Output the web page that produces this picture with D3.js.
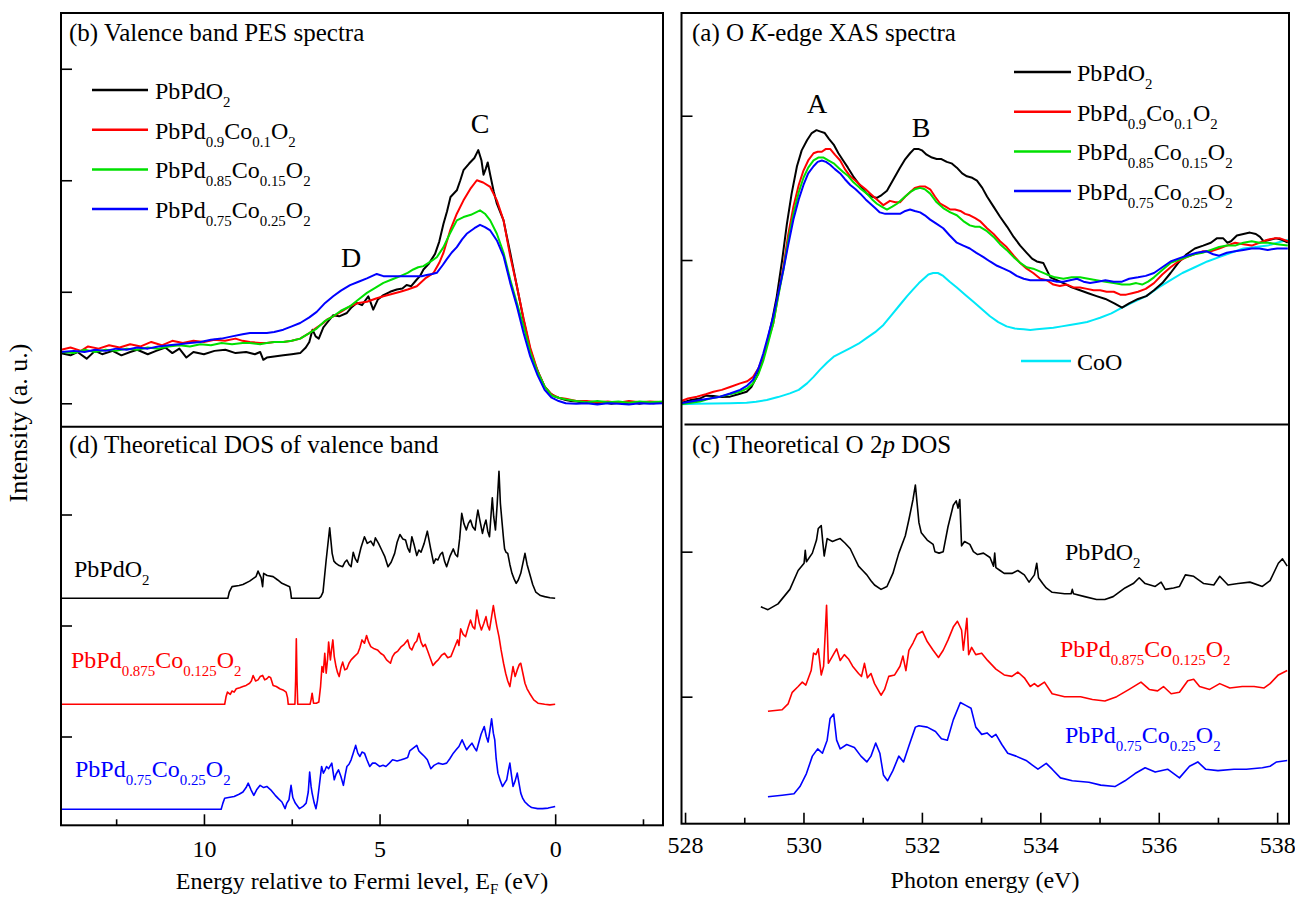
<!DOCTYPE html>
<html>
<head>
<meta charset="utf-8">
<script src="https://cdn.jsdelivr.net/npm/d3@7"></script>
<style>
body{margin:0;background:#fff;}
svg text{font-family:"Liberation Serif","Times New Roman",serif;}
</style>
</head>
<body>
<svg></svg>
<script>
// ---- data ----
// (b) valence band PES, [binding energy eV, intensity]
var pes_PbPdO2 = [[14.07,0.45],[13.8,0.43],[13.6,0.46],[13.34,0.40],[13.1,0.47],[12.9,0.44],[12.6,0.47],[12.35,0.43],[12.1,0.46],[11.9,0.48],[11.6,0.44],[11.36,0.47],[11.1,0.50],[10.9,0.45],[10.7,0.49],[10.5,0.41],[10.3,0.46],[10.0,0.44],[9.7,0.47],[9.39,0.48],[9.1,0.45],[8.8,0.46],[8.55,0.44],[8.40,0.46],[8.31,0.39],[8.21,0.41],[8.0,0.42],[7.74,0.43],[7.5,0.44],[7.26,0.45],[7.1,0.50],[7.0,0.55],[6.91,0.66],[6.82,0.60],[6.73,0.58],[6.6,0.68],[6.50,0.72],[6.32,0.79],[6.15,0.78],[5.93,0.81],[5.80,0.86],[5.65,0.90],[5.50,0.88],[5.32,0.96],[5.25,0.90],[5.18,0.84],[5.05,0.93],[4.89,0.97],[4.70,1.00],[4.51,1.02],[4.35,1.03],[4.23,1.06],[4.10,1.05],[3.94,1.11],[3.85,1.14],[3.75,1.20],[3.60,1.25],[3.42,1.34],[3.30,1.45],[3.18,1.61],[3.08,1.72],[2.98,1.85],[2.80,1.91],[2.70,2.00],[2.61,2.09],[2.45,2.15],[2.30,2.20],[2.19,2.27],[2.10,2.18],[2.04,2.05],[1.98,2.10],[1.92,2.16],[1.85,2.05],[1.75,1.90],[1.66,1.79],[1.47,1.64],[1.38,1.50],[1.28,1.35],[1.09,1.05],[0.90,0.75],[0.71,0.48],[0.55,0.33],[0.43,0.24],[0.30,0.15],[0.14,0.09],[0.0,0.06],[-0.14,0.045],[-0.3,0.03],[-0.45,0.02],[-0.62,0.015],[-0.8,0.005],[-1.0,0.012],[-1.2,0.0],[-1.4,0.008],[-1.6,-0.005],[-1.8,0.005],[-2.0,0.0],[-2.2,0.01],[-2.4,-0.005],[-2.6,0.008],[-2.8,0.0],[-3.07,0.01]];
var pes_Co010 = [[14.07,0.48],[13.8,0.50],[13.5,0.47],[13.3,0.51],[13.0,0.49],[12.7,0.52],[12.4,0.50],[12.1,0.53],[11.8,0.51],[11.5,0.55],[11.2,0.52],[10.9,0.56],[10.6,0.54],[10.3,0.56],[10.0,0.55],[9.7,0.57],[9.4,0.56],[9.1,0.58],[8.9,0.56],[8.69,0.55],[8.4,0.54],[8.21,0.54],[8.0,0.55],[7.74,0.55],[7.5,0.56],[7.26,0.58],[7.0,0.63],[6.79,0.68],[6.6,0.72],[6.50,0.75],[6.32,0.78],[6.1,0.82],[5.84,0.87],[5.6,0.90],[5.36,0.91],[5.1,0.94],[4.89,0.96],[4.65,0.98],[4.41,1.00],[4.2,1.02],[3.94,1.05],[3.7,1.12],[3.46,1.17],[3.30,1.26],[3.18,1.35],[2.99,1.55],[2.80,1.70],[2.61,1.82],[2.40,1.93],[2.23,2.00],[2.05,1.98],[1.85,1.94],[1.66,1.82],[1.47,1.64],[1.28,1.32],[1.09,1.05],[0.90,0.76],[0.71,0.50],[0.50,0.29],[0.30,0.15],[0.1,0.08],[-0.1,0.05],[-0.3,0.04],[-0.6,0.02],[-0.9,0.02],[-1.2,0.01],[-1.5,0.015],[-1.8,0.005],[-2.1,0.02],[-2.4,0.01],[-2.7,0.015],[-3.07,0.01]];
var pes_Co015 = [[14.07,0.46],[13.7,0.45],[13.4,0.48],[13.1,0.46],[12.8,0.48],[12.5,0.47],[12.2,0.49],[11.9,0.48],[11.6,0.50],[11.3,0.49],[11.0,0.51],[10.7,0.52],[10.4,0.51],[10.1,0.53],[9.8,0.52],[9.5,0.54],[9.2,0.53],[8.9,0.54],[8.69,0.54],[8.4,0.53],[8.21,0.54],[8.0,0.55],[7.74,0.55],[7.5,0.56],[7.26,0.58],[7.0,0.63],[6.79,0.67],[6.55,0.74],[6.32,0.78],[6.1,0.83],[5.84,0.87],[5.6,0.93],[5.36,0.99],[5.1,1.04],[4.89,1.08],[4.65,1.11],[4.41,1.14],[4.2,1.17],[4.04,1.20],[3.90,1.22],[3.75,1.23],[3.55,1.27],[3.37,1.31],[3.18,1.40],[3.0,1.52],[2.80,1.64],[2.61,1.67],[2.40,1.69],[2.14,1.73],[2.0,1.70],[1.85,1.64],[1.66,1.52],[1.47,1.35],[1.28,1.11],[1.09,0.90],[0.90,0.69],[0.71,0.46],[0.50,0.28],[0.30,0.15],[0.1,0.07],[-0.1,0.05],[-0.3,0.035],[-0.6,0.02],[-0.9,0.01],[-1.2,0.02],[-1.5,0.01],[-1.8,0.015],[-2.1,0.005],[-2.4,0.015],[-2.7,0.01],[-3.07,0.015]];
var pes_Co025 = [[14.07,0.46],[13.7,0.47],[13.4,0.46],[13.1,0.48],[12.8,0.47],[12.5,0.49],[12.2,0.48],[11.9,0.50],[11.6,0.49],[11.3,0.51],[11.0,0.52],[10.7,0.53],[10.4,0.54],[10.1,0.55],[9.8,0.57],[9.5,0.58],[9.2,0.60],[8.9,0.62],[8.69,0.63],[8.4,0.63],[8.21,0.63],[8.0,0.64],[7.74,0.66],[7.5,0.69],[7.26,0.72],[7.0,0.77],[6.79,0.82],[6.55,0.90],[6.32,0.96],[6.1,1.01],[5.84,1.06],[5.6,1.09],[5.36,1.12],[5.08,1.16],[4.89,1.14],[4.65,1.14],[4.41,1.14],[4.2,1.14],[3.94,1.14],[3.80,1.14],[3.66,1.15],[3.50,1.16],[3.37,1.17],[3.2,1.24],[3.09,1.29],[2.95,1.35],[2.80,1.40],[2.65,1.47],[2.52,1.52],[2.30,1.57],[2.14,1.60],[2.0,1.58],[1.85,1.55],[1.66,1.46],[1.47,1.32],[1.28,1.08],[1.09,0.87],[0.90,0.63],[0.71,0.42],[0.50,0.25],[0.30,0.12],[0.1,0.05],[-0.1,0.02],[-0.3,0.0],[-0.6,-0.005],[-0.9,0.0],[-1.2,-0.01],[-1.5,0.0],[-1.8,-0.005],[-2.1,-0.01],[-2.4,0.0],[-2.7,-0.005],[-3.07,0.0]];

// (a) O K-edge XAS, [photon energy eV, intensity]
var xas_PbPdO2 = [[527.92,0.007],[528.1,0.03],[528.25,0.04],[528.35,0.06],[528.48,0.058],[528.6,0.05],[528.76,0.053],[528.9,0.07],[529.04,0.087],[529.12,0.12],[529.21,0.19],[529.3,0.29],[529.38,0.42],[529.47,0.58],[529.55,0.75],[529.64,1.0],[529.72,1.25],[529.8,1.46],[529.89,1.65],[529.97,1.76],[530.06,1.83],[530.14,1.88],[530.22,1.90],[530.29,1.89],[530.36,1.88],[530.43,1.84],[530.51,1.80],[530.59,1.74],[530.67,1.69],[530.75,1.64],[530.84,1.58],[530.95,1.52],[531.07,1.46],[531.15,1.44],[531.24,1.43],[531.32,1.45],[531.41,1.48],[531.52,1.56],[531.63,1.64],[531.72,1.70],[531.80,1.74],[531.87,1.77],[531.94,1.77],[532.0,1.76],[532.08,1.73],[532.17,1.71],[532.25,1.70],[532.33,1.70],[532.42,1.68],[532.5,1.67],[532.59,1.64],[532.68,1.60],[532.76,1.58],[532.85,1.57],[532.93,1.55],[533.02,1.50],[533.10,1.44],[533.21,1.37],[533.32,1.30],[533.44,1.23],[533.55,1.16],[533.66,1.10],[533.77,1.05],[533.86,1.01],[533.94,0.99],[534.05,0.98],[534.11,0.93],[534.17,0.88],[534.28,0.86],[534.39,0.84],[534.53,0.81],[534.67,0.79],[534.81,0.77],[534.95,0.75],[535.10,0.73],[535.25,0.70],[535.38,0.67],[535.5,0.70],[535.65,0.73],[535.79,0.75],[535.92,0.79],[536.06,0.84],[536.2,0.91],[536.33,0.98],[536.47,1.04],[536.61,1.08],[536.75,1.10],[536.88,1.12],[536.98,1.15],[537.09,1.15],[537.16,1.12],[537.22,1.13],[537.32,1.17],[537.43,1.18],[537.54,1.19],[537.64,1.18],[537.71,1.16],[537.77,1.13],[537.88,1.14],[537.98,1.15],[538.08,1.14],[538.18,1.12]];
var xas_Co010 = [[527.92,0.02],[528.05,0.04],[528.2,0.053],[528.35,0.07],[528.48,0.087],[528.62,0.10],[528.76,0.12],[528.93,0.145],[529.05,0.16],[529.15,0.19],[529.24,0.25],[529.32,0.33],[529.4,0.44],[529.49,0.56],[529.57,0.75],[529.66,0.95],[529.74,1.17],[529.83,1.37],[529.92,1.52],[530.0,1.62],[530.08,1.69],[530.17,1.74],[530.24,1.75],[530.31,1.75],[530.38,1.77],[530.45,1.77],[530.53,1.73],[530.62,1.69],[530.7,1.63],[530.79,1.58],[530.88,1.55],[530.96,1.52],[531.05,1.49],[531.13,1.46],[531.24,1.42],[531.35,1.38],[531.46,1.41],[531.55,1.40],[531.63,1.40],[531.72,1.44],[531.80,1.47],[531.88,1.50],[531.97,1.51],[532.05,1.51],[532.14,1.49],[532.22,1.44],[532.31,1.39],[532.40,1.37],[532.48,1.35],[532.56,1.35],[532.65,1.34],[532.73,1.32],[532.81,1.31],[532.9,1.29],[532.98,1.27],[533.1,1.22],[533.21,1.18],[533.32,1.13],[533.43,1.09],[533.55,1.03],[533.66,0.98],[533.77,0.94],[533.88,0.91],[534.0,0.87],[534.11,0.86],[534.22,0.83],[534.33,0.82],[534.45,0.83],[534.56,0.81],[534.67,0.81],[534.79,0.80],[534.9,0.79],[535.01,0.79],[535.12,0.78],[535.24,0.78],[535.35,0.76],[535.45,0.76],[535.55,0.77],[535.65,0.78],[535.78,0.80],[535.92,0.84],[536.06,0.90],[536.2,0.95],[536.33,0.99],[536.47,1.02],[536.6,1.04],[536.74,1.06],[536.88,1.06],[537.02,1.08],[537.15,1.10],[537.29,1.12],[537.43,1.11],[537.57,1.10],[537.7,1.12],[537.84,1.14],[537.95,1.15],[538.05,1.15],[538.18,1.13]];
var xas_Co015 = [[527.92,0.0],[528.1,0.01],[528.25,0.02],[528.42,0.04],[528.59,0.053],[528.76,0.07],[528.93,0.087],[529.05,0.11],[529.15,0.145],[529.24,0.21],[529.32,0.30],[529.4,0.42],[529.49,0.56],[529.57,0.74],[529.66,0.93],[529.74,1.13],[529.83,1.32],[529.92,1.47],[530.0,1.57],[530.08,1.64],[530.17,1.69],[530.25,1.71],[530.34,1.71],[530.42,1.69],[530.51,1.67],[530.59,1.64],[530.67,1.61],[530.76,1.58],[530.84,1.54],[530.95,1.50],[531.07,1.46],[531.16,1.42],[531.24,1.39],[531.32,1.37],[531.41,1.35],[531.5,1.37],[531.58,1.39],[531.69,1.43],[531.80,1.47],[531.88,1.49],[531.97,1.50],[532.05,1.49],[532.14,1.46],[532.25,1.40],[532.36,1.36],[532.48,1.33],[532.59,1.31],[532.7,1.27],[532.81,1.24],[532.9,1.23],[532.98,1.23],[533.1,1.20],[533.21,1.16],[533.32,1.11],[533.43,1.07],[533.55,1.02],[533.66,0.98],[533.77,0.95],[533.88,0.94],[534.0,0.92],[534.11,0.90],[534.25,0.88],[534.39,0.87],[534.53,0.88],[534.67,0.88],[534.81,0.87],[534.95,0.86],[535.1,0.85],[535.24,0.84],[535.38,0.83],[535.51,0.83],[535.62,0.84],[535.72,0.83],[535.82,0.85],[535.92,0.88],[536.06,0.93],[536.2,0.98],[536.33,1.00],[536.47,1.02],[536.6,1.04],[536.74,1.05],[536.88,1.07],[537.02,1.09],[537.15,1.10],[537.29,1.10],[537.43,1.12],[537.57,1.13],[537.7,1.12],[537.84,1.12],[538.0,1.11],[538.18,1.10]];
var xas_Co025 = [[527.92,0.007],[528.1,0.02],[528.25,0.03],[528.42,0.04],[528.59,0.053],[528.76,0.075],[528.93,0.10],[529.05,0.13],[529.15,0.17],[529.24,0.25],[529.32,0.35],[529.4,0.47],[529.49,0.61],[529.57,0.76],[529.66,0.93],[529.74,1.10],[529.83,1.28],[529.92,1.42],[530.0,1.52],[530.08,1.60],[530.17,1.65],[530.24,1.68],[530.31,1.69],[530.38,1.68],[530.45,1.66],[530.53,1.63],[530.62,1.60],[530.7,1.56],[530.79,1.52],[530.88,1.49],[530.96,1.46],[531.05,1.42],[531.13,1.39],[531.21,1.36],[531.29,1.33],[531.38,1.32],[531.46,1.32],[531.55,1.32],[531.63,1.32],[531.72,1.34],[531.80,1.35],[531.88,1.34],[531.97,1.33],[532.05,1.31],[532.14,1.28],[532.25,1.25],[532.36,1.22],[532.47,1.17],[532.59,1.12],[532.7,1.10],[532.81,1.08],[532.92,1.05],[533.04,1.02],[533.15,0.99],[533.27,0.96],[533.38,0.94],[533.49,0.92],[533.6,0.89],[533.72,0.87],[533.83,0.86],[533.94,0.86],[534.05,0.86],[534.17,0.86],[534.28,0.85],[534.39,0.85],[534.5,0.86],[534.62,0.87],[534.73,0.85],[534.84,0.84],[534.97,0.85],[535.1,0.86],[535.24,0.85],[535.38,0.85],[535.5,0.87],[535.65,0.88],[535.78,0.89],[535.92,0.91],[536.06,0.95],[536.2,0.99],[536.33,1.01],[536.47,1.03],[536.64,1.05],[536.81,1.06],[536.92,1.04],[537.02,1.03],[537.15,1.05],[537.29,1.06],[537.43,1.07],[537.57,1.08],[537.7,1.08],[537.84,1.07],[538.0,1.08],[538.18,1.08]];
var xas_CoO = [[527.92,0.0],[528.2,0.003],[528.48,0.005],[528.76,0.007],[529.04,0.01],[529.2,0.018],[529.38,0.03],[529.57,0.05],[529.77,0.076],[529.92,0.10],[530.06,0.145],[530.17,0.19],[530.28,0.24],[530.4,0.29],[530.51,0.33],[530.65,0.36],[530.79,0.39],[530.93,0.42],[531.07,0.46],[531.21,0.50],[531.35,0.55],[531.49,0.62],[531.63,0.69],[531.75,0.75],[531.86,0.80],[531.95,0.84],[532.03,0.87],[532.11,0.90],[532.19,0.91],[532.27,0.91],[532.36,0.89],[532.47,0.85],[532.59,0.81],[532.73,0.76],[532.87,0.71],[533.01,0.66],[533.15,0.61],[533.29,0.57],[533.43,0.54],[533.57,0.525],[533.72,0.52],[533.83,0.515],[533.94,0.52],[534.08,0.525],[534.22,0.53],[534.36,0.54],[534.5,0.55],[534.65,0.56],[534.79,0.57],[534.9,0.585],[535.01,0.60],[535.2,0.63],[535.38,0.67],[535.58,0.71],[535.79,0.75],[536.0,0.81],[536.2,0.86],[536.4,0.91],[536.61,0.95],[536.82,0.99],[537.02,1.02],[537.22,1.05],[537.43,1.08],[537.64,1.09],[537.84,1.10],[538.0,1.12],[538.18,1.14]];

// (d) theoretical DOS of valence band (offset curves)
var vdos_PbPdO2 = [[14.07,2.245],[9.32,2.245],[9.28,2.30],[9.2,2.35],[9.0,2.36],[8.89,2.37],[8.7,2.40],[8.52,2.44],[8.46,2.49],[8.40,2.45],[8.37,2.43],[8.33,2.35],[8.30,2.47],[8.2,2.45],[8.03,2.44],[7.9,2.41],[7.78,2.38],[7.56,2.35],[7.53,2.30],[7.51,2.245],[6.73,2.245],[6.67,2.26],[6.61,2.30],[6.52,2.59],[6.42,2.88],[6.35,2.65],[6.30,2.58],[6.24,2.56],[6.15,2.54],[6.05,2.53],[5.99,2.57],[5.93,2.59],[5.87,2.55],[5.81,2.53],[5.75,2.66],[5.69,2.60],[5.63,2.57],[5.53,2.70],[5.43,2.80],[5.35,2.74],[5.25,2.76],[5.17,2.72],[5.12,2.79],[5.03,2.74],[4.94,2.68],[4.85,2.62],[4.76,2.53],[4.67,2.57],[4.57,2.65],[4.50,2.75],[4.42,2.82],[4.34,2.78],[4.26,2.77],[4.20,2.70],[4.14,2.66],[4.08,2.80],[4.01,2.72],[3.94,2.63],[3.88,2.68],[3.82,2.66],[3.73,2.74],[3.64,2.85],[3.55,2.70],[3.46,2.56],[3.40,2.60],[3.34,2.59],[3.27,2.64],[3.21,2.66],[3.15,2.58],[3.09,2.53],[3.0,2.62],[2.90,2.69],[2.84,2.64],[2.78,2.62],[2.72,2.78],[2.66,3.01],[2.60,2.92],[2.53,2.86],[2.47,2.92],[2.41,2.95],[2.35,2.89],[2.28,2.86],[2.24,2.96],[2.20,3.04],[2.14,2.94],[2.07,2.83],[2.02,2.90],[1.97,2.95],[1.92,2.85],[1.87,2.80],[1.83,2.98],[1.79,3.15],[1.75,2.98],[1.70,2.86],[1.65,3.10],[1.60,3.39],[1.56,3.10],[1.51,2.92],[1.47,2.78],[1.44,2.69],[1.40,2.66],[1.35,2.65],[1.29,2.55],[1.23,2.47],[1.17,2.42],[1.11,2.38],[1.05,2.41],[0.98,2.47],[0.92,2.56],[0.86,2.65],[0.80,2.55],[0.73,2.47],[0.64,2.37],[0.55,2.30],[0.42,2.27],[0.30,2.26],[0.15,2.25],[0.0,2.245]];
var vdos_Co0125 = [[14.07,1.29],[9.41,1.29],[9.37,1.36],[9.33,1.40],[9.25,1.38],[9.2,1.41],[9.14,1.40],[9.08,1.43],[8.98,1.44],[8.89,1.45],[8.80,1.46],[8.70,1.48],[8.65,1.50],[8.60,1.55],[8.53,1.50],[8.46,1.51],[8.40,1.54],[8.33,1.55],[8.27,1.51],[8.21,1.52],[8.15,1.54],[8.10,1.53],[8.03,1.46],[7.94,1.45],[7.84,1.43],[7.75,1.42],[7.66,1.40],[7.62,1.35],[7.60,1.29],[7.41,1.29],[7.39,1.50],[7.37,1.88],[7.35,1.50],[7.33,1.29],[6.98,1.29],[6.95,1.33],[6.92,1.39],[6.88,1.30],[6.80,1.30],[6.73,1.31],[6.68,1.45],[6.64,1.63],[6.60,1.58],[6.56,1.75],[6.52,1.57],[6.48,1.70],[6.45,1.85],[6.40,1.69],[6.36,1.80],[6.33,1.87],[6.29,1.72],[6.24,1.63],[6.20,1.58],[6.15,1.54],[6.10,1.62],[6.05,1.67],[5.99,1.60],[5.93,1.61],[5.87,1.66],[5.81,1.69],[5.72,1.72],[5.62,1.75],[5.56,1.80],[5.50,1.87],[5.43,1.84],[5.37,1.91],[5.31,1.85],[5.25,1.81],[5.15,1.79],[5.06,1.78],[4.97,1.75],[4.88,1.73],[4.80,1.69],[4.69,1.66],[4.63,1.72],[4.57,1.75],[4.48,1.77],[4.38,1.81],[4.30,1.83],[4.20,1.87],[4.14,1.80],[4.08,1.78],[4.00,1.84],[3.94,1.86],[3.88,1.93],[3.82,1.85],[3.76,1.81],[3.70,1.83],[3.64,1.78],[3.55,1.70],[3.48,1.64],[3.40,1.67],[3.33,1.69],[3.24,1.73],[3.15,1.75],[3.06,1.71],[2.97,1.72],[2.88,1.79],[2.78,1.87],[2.74,1.82],[2.69,1.97],[2.62,1.92],[2.55,1.90],[2.48,1.98],[2.41,2.05],[2.35,1.99],[2.29,1.97],[2.23,2.14],[2.16,2.02],[2.10,1.96],[2.03,2.02],[1.97,2.08],[1.92,2.00],[1.87,1.96],[1.81,2.08],[1.76,2.18],[1.71,2.08],[1.66,1.99],[1.60,1.90],[1.54,1.78],[1.47,1.66],[1.41,1.57],[1.35,1.50],[1.29,1.45],[1.25,1.53],[1.20,1.63],[1.14,1.54],[1.08,1.60],[1.02,1.65],[0.98,1.66],[0.92,1.57],[0.86,1.48],[0.80,1.43],[0.73,1.39],[0.61,1.33],[0.49,1.30],[0.30,1.29],[0.15,1.285],[0.0,1.29]];
var vdos_Co025 = [[14.07,0.344],[9.51,0.344],[9.46,0.40],[9.41,0.443],[9.3,0.45],[9.14,0.46],[9.0,0.48],[8.89,0.50],[8.80,0.54],[8.74,0.58],[8.66,0.52],[8.58,0.47],[8.50,0.52],[8.40,0.56],[8.30,0.54],[8.21,0.55],[8.10,0.52],[7.97,0.47],[7.88,0.44],[7.78,0.41],[7.72,0.37],[7.69,0.35],[7.64,0.40],[7.58,0.43],[7.52,0.56],[7.47,0.45],[7.40,0.40],[7.28,0.35],[7.18,0.37],[7.09,0.40],[7.03,0.50],[6.99,0.68],[6.95,0.55],[6.92,0.49],[6.86,0.40],[6.81,0.35],[6.77,0.42],[6.73,0.52],[6.65,0.73],[6.60,0.67],[6.55,0.70],[6.51,0.73],[6.45,0.71],[6.36,0.76],[6.29,0.61],[6.24,0.66],[6.17,0.70],[6.10,0.64],[6.03,0.56],[5.98,0.65],[5.93,0.73],[5.87,0.75],[5.81,0.79],[5.75,0.85],[5.68,0.92],[5.62,0.85],[5.56,0.82],[5.50,0.86],[5.43,0.85],[5.36,0.79],[5.28,0.73],[5.20,0.76],[5.12,0.76],[5.00,0.73],[4.90,0.74],[4.82,0.73],[4.72,0.76],[4.63,0.79],[4.50,0.78],[4.38,0.79],[4.29,0.80],[4.20,0.81],[4.14,0.87],[4.06,0.89],[3.94,0.92],[3.88,0.87],[3.82,0.85],[3.72,0.82],[3.64,0.79],[3.54,0.71],[3.45,0.74],[3.33,0.76],[3.20,0.75],[3.09,0.76],[3.00,0.80],[2.90,0.85],[2.82,0.88],[2.74,0.91],[2.65,0.97],[2.58,0.92],[2.52,0.88],[2.45,0.91],[2.37,0.94],[2.30,0.90],[2.24,0.87],[2.17,0.95],[2.11,1.02],[2.02,1.09],[1.96,1.00],[1.91,0.95],[1.86,1.05],[1.81,1.16],[1.76,1.03],[1.72,0.97],[1.68,0.80],[1.63,0.67],[1.56,0.60],[1.50,0.55],[1.44,0.58],[1.38,0.61],[1.33,0.70],[1.29,0.76],[1.24,0.64],[1.20,0.55],[1.14,0.60],[1.08,0.67],[1.03,0.58],[0.98,0.49],[0.92,0.44],[0.86,0.41],[0.76,0.38],[0.67,0.36],[0.50,0.35],[0.36,0.35],[0.2,0.355],[0.0,0.37]];

// (c) theoretical O 2p DOS (offset curves)
var odos_PbPdO2 = [[529.28,1.62],[529.40,1.60],[529.57,1.64],[529.77,1.74],[529.91,1.87],[530.01,1.92],[530.03,2.01],[530.05,1.93],[530.15,1.99],[530.22,2.08],[530.25,2.16],[530.30,2.18],[530.33,2.05],[530.35,1.97],[530.40,2.09],[530.49,2.07],[530.55,2.08],[530.62,2.09],[530.70,2.06],[530.79,2.02],[530.86,1.96],[530.93,1.90],[531.0,1.87],[531.07,1.84],[531.14,1.80],[531.20,1.77],[531.31,1.74],[531.41,1.76],[531.51,1.85],[531.61,1.99],[531.72,2.11],[531.78,2.22],[531.85,2.36],[531.89,2.46],[531.92,2.33],[531.95,2.20],[531.99,2.13],[532.09,2.08],[532.19,2.05],[532.22,2.00],[532.29,1.99],[532.36,2.00],[532.44,2.17],[532.53,2.32],[532.58,2.35],[532.61,2.30],[532.64,2.36],[532.67,2.04],[532.72,2.07],[532.81,2.05],[532.87,2.00],[532.94,1.98],[533.04,1.99],[533.15,1.96],[533.21,1.90],[533.23,1.99],[533.25,1.89],[533.32,1.87],[533.39,1.85],[533.52,1.85],[533.62,1.87],[533.73,1.84],[533.81,1.79],[533.90,1.84],[533.94,1.92],[533.97,1.82],[534.04,1.78],[534.10,1.75],[534.20,1.72],[534.41,1.71],[534.52,1.71],[534.54,1.74],[534.56,1.71],[534.75,1.69],[534.95,1.67],[535.09,1.67],[535.23,1.69],[535.43,1.75],[535.57,1.78],[535.67,1.82],[535.77,1.78],[535.94,1.76],[536.04,1.79],[536.11,1.74],[536.25,1.75],[536.35,1.76],[536.45,1.84],[536.59,1.83],[536.76,1.78],[536.93,1.77],[537.03,1.83],[537.17,1.77],[537.34,1.78],[537.54,1.79],[537.75,1.76],[537.88,1.80],[538.02,1.92],[538.09,1.95],[538.17,1.90]];
var odos_Co0125 = [[529.40,0.90],[529.64,0.91],[529.74,0.95],[529.81,1.03],[529.91,1.07],[529.98,1.10],[530.04,1.08],[530.13,1.18],[530.17,1.30],[530.21,1.29],[530.25,1.33],[530.30,1.15],[530.34,1.21],[530.39,1.63],[530.42,1.23],[530.49,1.28],[530.56,1.33],[530.62,1.25],[530.69,1.29],[530.76,1.26],[530.83,1.21],[530.93,1.16],[530.98,1.14],[531.03,1.23],[531.08,1.13],[531.14,1.16],[531.20,1.09],[531.31,1.01],[531.37,1.05],[531.44,1.14],[531.54,1.15],[531.63,1.21],[531.68,1.28],[531.73,1.18],[531.78,1.32],[531.85,1.37],[531.92,1.43],[532.01,1.45],[532.09,1.38],[532.19,1.32],[532.28,1.27],[532.36,1.32],[532.44,1.39],[532.53,1.48],[532.60,1.52],[532.67,1.46],[532.70,1.32],[532.76,1.54],[532.79,1.29],[532.84,1.34],[532.91,1.29],[533.01,1.30],[533.11,1.25],[533.25,1.19],[533.39,1.15],[533.52,1.14],[533.62,1.17],[533.73,1.13],[533.83,1.07],[533.90,1.09],[533.96,1.07],[534.07,1.10],[534.20,1.02],[534.41,1.00],[534.68,1.00],[534.88,0.98],[535.09,0.97],[535.29,1.00],[535.50,1.05],[535.70,1.10],[535.84,1.05],[535.98,1.04],[536.08,1.07],[536.21,1.02],[536.35,1.03],[536.49,1.11],[536.59,1.12],[536.69,1.07],[536.86,1.05],[537.03,1.09],[537.20,1.06],[537.41,1.07],[537.61,1.07],[537.78,1.06],[537.88,1.09],[538.02,1.15],[538.17,1.18]];
var odos_Co025 = [[529.40,0.31],[529.64,0.32],[529.84,0.33],[529.94,0.38],[530.05,0.47],[530.15,0.59],[530.24,0.64],[530.32,0.61],[530.40,0.70],[530.45,0.85],[530.51,0.88],[530.56,0.70],[530.62,0.64],[530.73,0.67],[530.86,0.65],[530.97,0.59],[531.07,0.55],[531.14,0.59],[531.22,0.68],[531.29,0.61],[531.35,0.46],[531.42,0.42],[531.51,0.49],[531.61,0.59],[531.69,0.55],[531.78,0.66],[531.89,0.79],[531.95,0.80],[532.09,0.79],[532.23,0.76],[532.33,0.71],[532.43,0.70],[532.53,0.84],[532.65,0.96],[532.74,0.94],[532.83,0.92],[532.91,0.79],[533.01,0.74],[533.10,0.75],[533.18,0.72],[533.25,0.74],[533.35,0.67],[533.45,0.61],[533.59,0.59],[533.76,0.56],[533.86,0.53],[533.96,0.50],[534.10,0.54],[534.20,0.50],[534.34,0.44],[534.54,0.42],[534.82,0.41],[535.02,0.39],[535.26,0.38],[535.43,0.42],[535.60,0.47],[535.77,0.51],[535.94,0.48],[536.15,0.50],[536.35,0.44],[536.52,0.52],[536.66,0.55],[536.79,0.50],[537.00,0.49],[537.27,0.50],[537.48,0.50],[537.75,0.51],[537.88,0.52],[537.99,0.55],[538.17,0.56]];

// names, colours, ticks
var pes_names = ["PbPdO_{2}","PbPd_{0.9}Co_{0.1}O_{2}","PbPd_{0.85}Co_{0.15}O_{2}","PbPd_{0.75}Co_{0.25}O_{2}"];
var xas_names = pes_names.concat(["CoO"]);
var dos_names = ["PbPdO_{2}","PbPd_{0.875}Co_{0.125}O_{2}","PbPd_{0.75}Co_{0.25}O_{2}"];
var line_colors = ["#000000","#ff0000","#00e000","#0000ff","#00e8f8"];
var dos_colors = ["#000000","#ff0000","#0000ff"];
var vb_ticks = [10,5,0], vb_minor = [12.5,7.5,2.5,-2.5];
var pe_ticks = [528,530,532,534,536,538], pe_minor = [529,531,533,535,537];
var pes_yticks = [0,1,2,3], vdos_yticks = [1,2,3], xas_yticks = [1,2], odos_yticks = [1,2];

// ---- layout ----
var svg_w = 1295, svg_h = 901;
var lx0 = 61, lx1 = 663, rx0 = 681.5, rx1 = 1289;
var top_y = 13;
var mid_l = 426.7, bot_l = 825.3; // left column
var mid_r = 424.5, bot_r = 823.7; // right column
var font_main = 24;
var serif = "'Liberation Serif','Times New Roman',serif";

var svg = d3.select("svg").attr("width",svg_w).attr("height",svg_h);

var x_vb = d3.scaleLinear().domain([14.07,-3.07]).range([lx0,lx1]);
var x_pe = d3.scaleLinear().domain([527.94,538.2]).range([rx0,rx1]);
var y_pes = d3.scaleLinear().domain([-0.21,3.5]).range([mid_l,top_y]);
var y_vdos = d3.scaleLinear().domain([0.2,3.791]).range([bot_l,mid_l]);
var y_xas = d3.scaleLinear().domain([-0.14,2.712]).range([mid_r,top_y]);
var y_odos = d3.scaleLinear().domain([0.124,2.877]).range([bot_r,mid_r]);

// clip for each panel
function add_clip(id,x0,y0,x1,y1){
  svg.append("clipPath").attr("id",id).append("rect")
    .attr("x",x0).attr("y",y0).attr("width",x1-x0).attr("height",y1-y0);
}
add_clip("clip_b",lx0,top_y,lx1,mid_l);
add_clip("clip_d",lx0,mid_l,lx1,bot_l);
add_clip("clip_a",rx0,top_y,rx1,mid_r);
add_clip("clip_c",rx0,mid_r,rx1,bot_r);

function draw_curve(p_obj,data,xs,ys,color,w){
  var line = d3.line().x(function(d){return xs(d[0]);}).y(function(d){return ys(d[1]);});
  return p_obj.append("path").datum(data).attr("d",line)
    .attr("fill","none").attr("stroke",color).attr("stroke-width",w)
    .attr("stroke-linejoin","round");
}
function draw_line(p_obj,x1,x2,y1,y2,color,w){
  return p_obj.append("line").attr("x1",x1).attr("x2",x2).attr("y1",y1).attr("y2",y2)
    .attr("stroke",color).attr("stroke-width",w);
}
function draw_text(p_obj,x,y,text,size){
  return p_obj.append("text").attr("x",x).attr("y",y).style("font-family",serif)
    .attr("font-size",size||font_main).text(text);
}
// text with _{sub} subscripts and <i>..</i> italics
function draw_formula(p_obj,x,y,formula,color,size,sub_dy){
  size = size || font_main;
  sub_dy = sub_dy || 8;
  var t = p_obj.append("text").attr("x",x).attr("y",y).style("font-family",serif)
    .attr("font-size",size).attr("fill",color||"#000");
  var parts = formula.split(/(_\{[^}]*\}|<i>[^<]*<\/i>)/);
  var shift = 0;
  parts.forEach(function(s){
    if(s==="") return;
    var ts = t.append("tspan");
    if(s.indexOf("_{")===0){
      ts.text(s.slice(2,-1)).attr("font-size",size*0.62).attr("dy",sub_dy-shift);
      shift = sub_dy;
    }else{
      if(s.indexOf("<i>")===0){ s = s.slice(3,-4); ts.attr("font-style","italic"); }
      ts.text(s).attr("dy",-shift);
      shift = 0;
    }
  });
  return t;
}

// ---- curves ----
var g_b = svg.append("g").attr("clip-path","url(#clip_b)");
[pes_PbPdO2,pes_Co010,pes_Co015,pes_Co025].forEach(function(d,i){
  draw_curve(g_b,d,x_vb,y_pes,line_colors[i],2);
});
var g_a = svg.append("g").attr("clip-path","url(#clip_a)");
draw_curve(g_a,xas_CoO,x_pe,y_xas,line_colors[4],2);
[xas_PbPdO2,xas_Co010,xas_Co015,xas_Co025].forEach(function(d,i){
  draw_curve(g_a,d,x_pe,y_xas,line_colors[i],2);
});
var g_d = svg.append("g").attr("clip-path","url(#clip_d)");
[vdos_PbPdO2,vdos_Co0125,vdos_Co025].forEach(function(d,i){
  draw_curve(g_d,d,x_vb,y_vdos,dos_colors[i],1.6);
});
var g_c = svg.append("g").attr("clip-path","url(#clip_c)");
[odos_PbPdO2,odos_Co0125,odos_Co025].forEach(function(d,i){
  draw_curve(g_c,d,x_pe,y_odos,dos_colors[i],1.6);
});

// ---- axes ----
function y_ticks(x,ys,vals){
  var g = svg.append("g").attr("transform","translate("+x+",0)")
    .call(d3.axisLeft(ys).tickValues(vals).tickSize(-11).tickFormat(""));
  g.select(".domain").remove();
  g.selectAll("line").attr("stroke-width",1.6);
}
y_ticks(lx0,y_pes,pes_yticks);
y_ticks(lx0,y_vdos,vdos_yticks);
y_ticks(rx0,y_xas,xas_yticks);
y_ticks(rx0,y_odos,odos_yticks);

function x_axis(y,xs,major,minor,pad){
  var g = svg.append("g").attr("transform","translate(0,"+y+")")
    .call(d3.axisBottom(xs).tickValues(major).tickSize(-11).tickPadding(pad).tickFormat(d3.format("d")));
  g.select(".domain").remove();
  g.selectAll("line").attr("stroke-width",1.6);
  g.selectAll("text").style("font-family",serif).style("font-size",font_main+"px");
  var g2 = svg.append("g").attr("transform","translate(0,"+y+")")
    .call(d3.axisBottom(xs).tickValues(minor).tickSize(-6).tickFormat(""));
  g2.select(".domain").remove();
  g2.selectAll("line").attr("stroke-width",1.6);
}
x_axis(bot_l,x_vb,vb_ticks,vb_minor,15);
x_axis(bot_r,x_pe,pe_ticks,pe_minor,12);

// frames
svg.append("rect").attr("x",lx0).attr("y",top_y).attr("width",lx1-lx0).attr("height",bot_l-top_y)
  .attr("fill","none").attr("stroke","#000").attr("stroke-width",2);
draw_line(svg,lx0,lx1,mid_l,mid_l,"#000",2);
svg.append("rect").attr("x",rx0).attr("y",top_y).attr("width",rx1-rx0).attr("height",bot_r-top_y)
  .attr("fill","none").attr("stroke","#000").attr("stroke-width",2);
draw_line(svg,rx0+3,rx1,mid_r,mid_r,"#000",2);

// ---- panel titles ----
draw_formula(svg,69,41,"(b) Valence band PES spectra","#000",25);
draw_formula(svg,692,41,"(a) O <i>K</i>-edge XAS spectra","#000",25);
draw_formula(svg,69,453,"(d) Theoretical DOS of valence band","#000",25);
draw_formula(svg,692,453,"(c) Theoretical O 2<i>p</i> DOS","#000",25);

// ---- legends ----
pes_names.forEach(function(n,i){
  var y = 90 + i*39.7;
  draw_line(svg,92,148,y,y,line_colors[i],2.5);
  draw_formula(svg,155,y+9,n,"#000");
});
xas_names.forEach(function(n,i){
  var y = i<4 ? 72 + i*39.7 : 361;
  draw_line(svg,i<4?1014:1021,1071,y,y,line_colors[i],2.5);
  draw_formula(svg,1077,y+9,n,"#000");
});

// peak labels
[["C",480,133],["D",351,267],["A",817,113],["B",921,137]].forEach(function(d){
  draw_text(svg,d[1],d[2],d[0],28).attr("text-anchor","middle");
});

// curve labels in DOS panels
var vdos_lab = [[74,577],[71,668],[75,777]];
var odos_lab = [[1065,560],[1060,657],[1065,743]];
dos_names.forEach(function(n,i){
  draw_formula(svg,vdos_lab[i][0],vdos_lab[i][1],n,dos_colors[i]);
  draw_formula(svg,odos_lab[i][0],odos_lab[i][1],n,dos_colors[i]);
});

// ---- axis titles ----
draw_formula(svg,362,889,"Energy relative to Fermi level, E_{F} (eV)","#000",24,5).attr("text-anchor","middle");
draw_formula(svg,985,888,"Photon energy (eV)","#000").attr("text-anchor","middle");
draw_text(svg,0,0,"Intensity (a. u.)",26).attr("text-anchor","middle")
  .attr("transform","translate(27,423) rotate(-90)");
</script>
</body>
</html>
